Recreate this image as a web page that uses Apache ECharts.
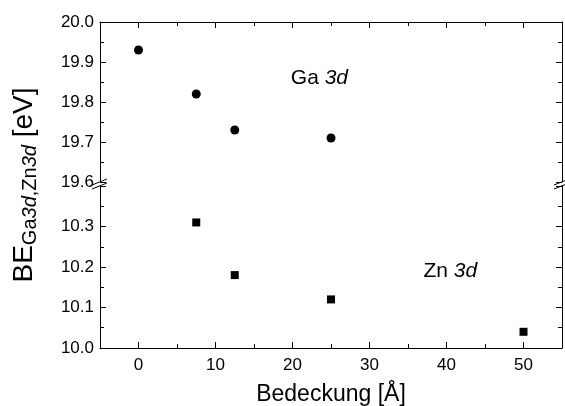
<!DOCTYPE html>
<html>
<head>
<meta charset="utf-8">
<script src="https://cdn.jsdelivr.net/npm/echarts@6/dist/echarts.min.js"></script>
<style>
  html, body { margin: 0; padding: 0; background: #fff; }
  #chart { width: 565px; height: 406px; }
</style>
</head>
<body>
<div id="chart"></div>
<script>
// Ga 3d (upper panel)
const gaX = [0, 7.5, 12.5, 25]
const gaY = [19.93, 19.82, 19.73, 19.71]
// Zn 3d (lower panel)
const znX = [7.5, 12.5, 25, 50]
const znY = [10.31, 10.18, 10.12, 10.04]
// axis ranges and ticks
const xRange = [-5, 55]
const xMajor = [0, 10, 20, 30, 40, 50]
const xMinor = [5, 15, 25, 35, 45]
const topRange = [19.6, 20.0]
const bottomRange = [10.0, 10.4]
// annotation anchors (data coords)
const gaLabelAt = [23.5, 19.86]
const znLabelAt = [40.5, 10.19]

const font = 'Liberation Sans, Arial, sans-serif'
const black = '#000'

const chart = echarts.init(document.getElementById('chart'))

const lineStyle = { color: black, width: 1 }
const tick = (len) => ({ show: true, inside: true, length: len, lineStyle })

const xAxisFor = (grid, pos, ticks, len, extra) => ({
  type: 'value',
  gridIndex: grid,
  position: pos,
  min: xRange[0],
  max: xRange[1],
  axisLine: { show: true, onZero: false, lineStyle },
  axisTick: { ...tick(len), customValues: ticks },
  minorTick: { show: false },
  splitLine: { show: false },
  axisLabel: { show: false },
  ...extra
})

const yBase = (range, grid, pos, labels) => ({
  type: 'value',
  gridIndex: grid,
  position: pos,
  min: range[0],
  max: range[1],
  interval: 0.1,
  axisLine: { show: true, onZero: false, lineStyle },
  axisTick: tick(6),
  minorTick: { show: true, splitNumber: 2, length: 4, lineStyle },
  splitLine: { show: false },
  axisLabel: labels
    ? {
        show: true,
        margin: 6,
        fontFamily: font,
        fontSize: 17,
        color: black,
        showMaxLabel: grid === 0,
        formatter: (v) => v.toFixed(1)
      }
    : { show: false }
})

const textLabel = (name) => ({
  show: true,
  position: 'inside',
  formatter: '{a|' + name + ' }{b|3d}',
  rich: {
    a: { fontFamily: font, fontSize: 21, color: black },
    b: { fontFamily: font, fontSize: 21, fontStyle: 'italic', color: black }
  }
})

const option = {
  animation: false,
  backgroundColor: '#fff',
  grid: [
    { left: 100, right: 3, top: 22, height: 160, outerBoundsMode: 'none' },
    { left: 100, right: 3, top: 186, height: 162, outerBoundsMode: 'none' }
  ],
  xAxis: [
    xAxisFor(0, 'top', xMajor, 6),
    xAxisFor(1, 'bottom', xMajor, 6, {
      axisLabel: {
        show: true,
        margin: 9,
        fontFamily: font,
        fontSize: 17,
        color: black,
        customValues: xMajor
      },
      name: 'Bedeckung [Å]',
      nameLocation: 'middle',
      nameGap: 35,
      nameTextStyle: { fontFamily: font, fontSize: 23, color: black }
    }),
    // minor ticks (5, 15, ...) drawn by second axes in the same grids
    xAxisFor(0, 'top', xMinor, 4, { axisLine: { show: false, onZero: false } }),
    xAxisFor(1, 'bottom', xMinor, 4, { axisLine: { show: false, onZero: false } })
  ],
  yAxis: [
    yBase(topRange, 0, 'left', true),
    yBase(topRange, 0, 'right', false),
    yBase(bottomRange, 1, 'left', true),
    yBase(bottomRange, 1, 'right', false)
  ],
  series: [
    {
      name: 'Ga 3d',
      type: 'scatter',
      xAxisIndex: 0,
      yAxisIndex: 0,
      symbol: 'circle',
      symbolSize: 9,
      itemStyle: { color: black, opacity: 1 },
      data: gaX.map((x, i) => [x, gaY[i]])
    },
    {
      name: 'Zn 3d',
      type: 'scatter',
      xAxisIndex: 1,
      yAxisIndex: 2,
      symbol: 'rect',
      symbolSize: 8,
      itemStyle: { color: black, opacity: 1 },
      data: znX.map((x, i) => [x, znY[i]])
    },
    {
      type: 'scatter',
      xAxisIndex: 0,
      yAxisIndex: 0,
      symbolSize: 0,
      silent: true,
      itemStyle: { opacity: 1 },
      data: [gaLabelAt],
      label: textLabel('Ga')
    },
    {
      type: 'scatter',
      xAxisIndex: 1,
      yAxisIndex: 2,
      symbolSize: 0,
      silent: true,
      itemStyle: { opacity: 1 },
      data: [znLabelAt],
      label: textLabel('Zn')
    }
  ]
}
chart.setOption(option)

// y axis title with subscript + axis-break marks
const big = { fontFamily: font, fontSize: 28, color: black, lineHeight: 32, verticalAlign: 'middle' }
const sub = { fontFamily: font, fontSize: 20, color: black, lineHeight: 10, verticalAlign: 'bottom' }
const subI = { ...sub, fontStyle: 'italic' }

const pTop = chart.convertToPixel({ xAxisIndex: 0, yAxisIndex: 0 }, [xRange[0], topRange[0]])
const pBot = chart.convertToPixel({ xAxisIndex: 1, yAxisIndex: 2 }, [xRange[0], bottomRange[1]])
const pRight = chart.convertToPixel({ xAxisIndex: 0, yAxisIndex: 0 }, [xRange[1], topRange[0]])

const breakMark = (x) => [
  { type: 'line', shape: { x1: x - 8, y1: pTop[1] + 3, x2: x + 7, y2: pTop[1] - 3 }, style: { stroke: black, lineWidth: 1 } },
  { type: 'line', shape: { x1: x - 8, y1: pBot[1] + 3, x2: x + 7, y2: pBot[1] - 3 }, style: { stroke: black, lineWidth: 1 } }
]

chart.setOption({
  graphic: [
    {
      type: 'text',
      x: 24,
      y: (22 + 348) / 2,
      rotation: Math.PI / 2,
      style: {
        text: '{a|BE}{s|Ga}{i|3d}{s|,Zn}{i|3d}{a| [eV]}',
        align: 'center',
        verticalAlign: 'middle',
        rich: { a: big, s: sub, i: subI }
      }
    },
    ...breakMark(pTop[0]),
    ...breakMark(pRight[0])
  ]
})
</script>
</body>
</html>
